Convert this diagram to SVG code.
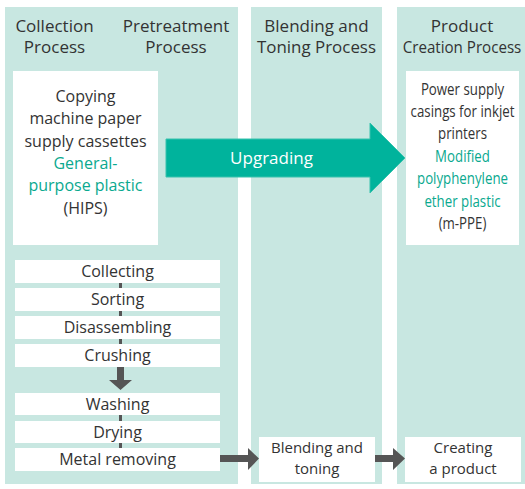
<svg xmlns="http://www.w3.org/2000/svg" width="525" height="489" viewBox="0 0 525 489">
<style>
.panel{fill:#c8e7e1}
.box{fill:#ffffff}
.t{font-family:"Open Sans","Noto Sans",sans-serif;fill:#333333;text-anchor:middle}
.h{font-size:17px}
.b{font-size:16px}
.s{font-size:15px}
.g{fill:#0aa98f}
.w{fill:#ffffff}
.ln{fill:#555555}
</style>
<rect width="525" height="489" fill="#ffffff"/>
<g id="panels">
<rect class="panel" x="5" y="7" width="233" height="477"/>
<rect class="panel" x="251" y="7" width="131" height="477"/>
<rect class="panel" x="397" y="7" width="128" height="477"/>
</g>
<g id="headers">
<text class="t h" x="54.5" y="31.5">Collection</text>
<text class="t h" x="54.5" y="53">Process</text>
<text class="t h" x="176" y="31.5">Pretreatment</text>
<text class="t h" x="176" y="53">Process</text>
<text class="t h" x="316.5" y="31.5">Blending and</text>
<text class="t h" x="316.5" y="53" textLength="119" lengthAdjust="spacingAndGlyphs">Toning Process</text>
<text class="t h" x="462" y="31.5">Product</text>
<g transform="translate(462,0) scale(0.89,1)"><text class="t h" x="0" y="53">Creation Process</text></g>
</g>
<g id="connectors">
<polygon points="166,139 370,139 370,123 405,158 370,193 370,177 166,177" fill="#00b39c" stroke="#38c2ad" stroke-width="1"/>
<text class="t h w" x="271.5" y="164">Upgrading</text>
<rect class="ln" x="119" y="282" width="3" height="63"/>
<rect class="ln" x="119" y="414" width="3" height="35"/>
<polygon class="ln" points="117,367 124,367 124,380 132,380 120.5,390 109,380 117,380"/>
<polygon class="ln" points="220,455 248,455 248,448 259,458.5 248,470 248,462 220,462"/>
<polygon class="ln" points="375,455 393,455 393,448 405,458.5 393,470 393,462 375,462"/>
</g>
<g id="source">
<rect class="box" x="13" y="71" width="145" height="174"/>
<text class="t b" x="85.5" y="102">Copying</text>
<text class="t b" x="85.5" y="124.3">machine paper</text>
<text class="t b" x="85.5" y="146.6">supply cassettes</text>
<text class="t b g" x="85.5" y="169" font-weight="500">General-</text>
<text class="t b g" x="85.5" y="191.3" font-weight="500">purpose plastic</text>
<text class="t b" x="85.5" y="213.6">(HIPS)</text>
</g>
<g id="product">
<rect class="box" x="406" y="71" width="113" height="174"/>
<g transform="translate(462.5,0) scale(0.83,1)">
<text class="t b" x="0" y="95">Power supply</text>
<text class="t b" x="0" y="117">casings for inkjet</text>
<text class="t b" x="0" y="139">printers</text>
<text class="t b g" x="0" y="162" font-weight="500">Modified</text>
<text class="t b g" x="0" y="184.5" font-weight="500">polyphenylene</text>
<text class="t b g" x="0" y="207" font-weight="500">ether plastic</text>
<text class="t b" x="0" y="229">(m-PPE)</text>
</g>
</g>
<g id="collecting"><rect class="box" x="15" y="260" width="205" height="23"/><text class="t b" x="117.5" y="276.5">Collecting</text></g>
<g id="sorting"><rect class="box" x="15" y="288" width="205" height="23"/><text class="t b" x="117.5" y="304.5">Sorting</text></g>
<g id="disassembling"><rect class="box" x="15" y="316" width="205" height="23"/><text class="t b" x="117.5" y="332.5">Disassembling</text></g>
<g id="crushing"><rect class="box" x="15" y="344" width="205" height="23"/><text class="t b" x="117.5" y="360.5">Crushing</text></g>
<g id="washing"><rect class="box" x="15" y="393" width="205" height="22"/><text class="t b" x="117.5" y="409.5">Washing</text></g>
<g id="drying"><rect class="box" x="15" y="421" width="205" height="22"/><text class="t b" x="117.5" y="437.5">Drying</text></g>
<g id="metal"><rect class="box" x="15" y="448" width="205" height="23"/><text class="t b" x="117.5" y="464.5">Metal removing</text></g>
<g id="blending"><rect class="box" x="259" y="437" width="116" height="45"/><text class="t s" x="317" y="453">Blending and</text><text class="t s" x="317" y="473.5">toning</text></g>
<g id="creating"><rect class="box" x="405" y="437" width="116" height="45"/><text class="t s" x="463" y="453">Creating</text><text class="t s" x="463" y="473.5">a product</text></g>
</svg>
